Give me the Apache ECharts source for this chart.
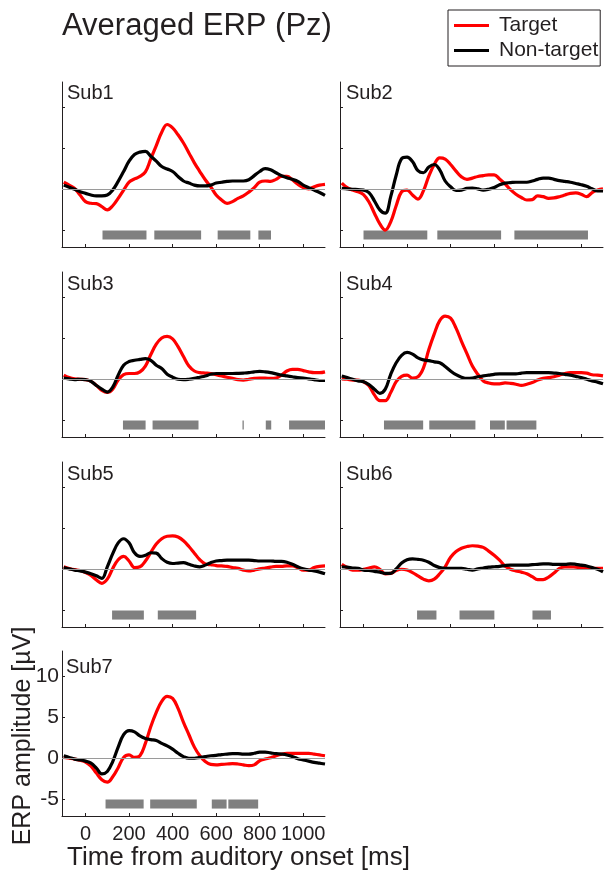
<!DOCTYPE html>
<html>
<head>
<meta charset="utf-8">
<script src="https://cdn.jsdelivr.net/npm/echarts@6/dist/echarts.min.js"></script>
<style>
html,body{margin:0;padding:0;background:#fff;}
#chart{width:605px;height:872px;}
</style>
</head>
<body>
<div id="chart"></div>
<script>
// ---- Data ----
const times = [-100,-75,-50,-25,0,25,50,75,100,125,150,175,200,225,250,275,300,325,350,375,400,425,450,475,500,525,550,575,600,625,650,675,700,725,750,775,800,825,850,875,900,925,950,975,1000,1025,1050,1075,1100];

const sub1Target = [0.85,0.5,0.1,-0.7,-1.5,-1.7,-1.75,-2.1,-2.5,-2.0, -1.1,-0.1,0.85,1.25,1.55,2.1,3.7,5.3,6.9,7.85, 7.45,6.6,5.6,4.4,3.2,2.15,1.15,0.3,-0.7,-1.3, -1.7,-1.5,-1.1,-0.8,-0.35,0.2,0.85,1.0,0.95,1.2, 1.55,1.55,1.15,0.6,0.2,0.05,0.3,0.5,0.6];
const sub1NonTarget = [0.5,0.25,0,-0.3,-0.5,-0.7,-0.8,-0.8,-0.7,-0.1, 0.95,2.15,3.4,4.2,4.5,4.6,4.0,3.4,2.75,2.45, 2.15,1.55,1.0,0.75,0.5,0.4,0.4,0.5,0.75,0.85, 0.95,1.0,1.0,1.0,1.15,1.65,2.15,2.5,2.35,2.0, 1.65,1.4,1.2,0.95,0.5,0.2,-0.1,-0.4,-0.75];

const sub2Target = [0.75,0.2,-0.1,-0.3,-0.65,-1.55,-2.9,-4.2,-4.95,-3.95, -2.0,-0.3,-0.1,-0.7,-1.2,-0.2,1.6,3.0,3.8,3.65, 3.0,2.2,1.5,1.2,1.35,1.55,1.65,1.75,1.75,1.25, 0.65,-0.05,-0.6,-1.0,-1.3,-1.25,-0.8,-0.9,-1.1,-1.05, -0.9,-0.7,-0.5,-0.45,-0.6,-0.9,-0.4,-0.1,0.05];
const sub2NonTarget = [0.1,0.05,0,-0.05,-0.1,-0.4,-1.4,-2.5,-2.9,-0.9, 1.7,3.7,3.9,3.35,2.25,2.0,2.7,3.0,2.35,1.0, 0.3,-0.15,-0.1,0.1,0.15,0.05,-0.1,0,0.2,0.55, 0.75,0.8,0.85,0.85,0.85,1.0,1.2,1.35,1.35,1.2, 1.05,0.95,0.85,0.7,0.55,0.35,0.05,-0.2,-0.2];

const sub3Target = [0.5,0.2,0.05,0,-0.05,-0.25,-0.75,-1.35,-1.6,-1.2, -0.1,0.55,0.7,0.7,0.9,1.6,3.0,4.25,5.0,5.2, 4.9,3.95,2.75,1.6,1.0,0.8,0.75,0.7,0.55,0.4, 0.25,0.1,-0.05,-0.1,0,0.1,0.15,0.15,0.1,0.15, 0.5,1.0,1.2,1.2,1.05,0.9,0.8,0.8,0.9];
const sub3NonTarget = [0.15,0.05,-0.05,0,-0.05,-0.25,-0.75,-1.2,-1.55,-0.95, 0.5,1.7,2.15,2.3,2.4,2.5,2.3,1.7,1.3,0.6, 0.25,0,-0.05,0,0.1,0.25,0.4,0.6,0.7,0.7, 0.7,0.7,0.72,0.75,0.8,0.9,0.95,0.9,0.8,0.65, 0.5,0.4,0.3,0.2,0.15,0.05,-0.05,-0.15,-0.15];

const sub4Target = [0.05,0,-0.1,-0.1,-0.3,-0.8,-1.9,-2.6,-2.6,-1.6, -0.3,0.35,0.5,0.15,0.3,1.35,3.6,5.5,7.1,7.65, 7.4,6.2,4.6,3.1,1.6,0.6,-0.2,-0.45,-0.55,-0.55, -0.45,-0.5,-0.6,-0.75,-0.6,-0.4,-0.1,0.1,0.2,0.3, 0.5,0.7,0.8,0.8,0.8,0.75,0.55,0.5,0.4];
const sub4NonTarget = [0.4,0.2,0,-0.2,-0.3,-0.65,-1.2,-1.7,-1.2,0.6, 2.0,2.9,3.25,3.05,2.6,2.35,2.25,2.1,2.0,1.55, 1.0,0.55,0.25,0.1,0.15,0.3,0.4,0.5,0.6,0.65, 0.65,0.65,0.65,0.75,0.8,0.8,0.8,0.8,0.8,0.75, 0.7,0.6,0.5,0.35,0.2,0,-0.2,-0.35,-0.55];

const sub5Target = [0.3,0.1,-0.05,-0.15,-0.4,-0.75,-1.3,-1.7,-1.2,0.1, 1.15,1.55,1.0,0.2,0.3,1.0,2.05,3.05,3.7,4.0, 4.05,3.9,3.45,2.75,1.95,1.15,0.65,0.55,0.45,0.4, 0.35,0.2,0.1,-0.1,-0.2,-0.1,0.05,0.15,0.25,0.35, 0.35,0.4,0.4,0.2,-0.1,-0.1,0.2,0.35,0.4];
const sub5NonTarget = [0.2,0.05,-0.1,-0.2,-0.35,-0.55,-0.8,-1.1,0.3,1.9, 3.2,3.7,3.2,2.0,1.55,1.7,2.0,1.95,1.3,0.85, 0.7,0.75,0.8,0.6,0.4,0.3,0.5,0.8,1.0,1.05, 1.1,1.1,1.1,1.1,1.1,1.05,1.0,1.0,1.0,0.95, 0.95,0.85,0.6,0.3,0.05,-0.1,-0.2,-0.35,-0.55];

const sub6Target = [0.6,0.2,-0.1,-0.1,0,0.15,0.3,0,-0.55,-0.5, -0.15,0,-0.1,-0.4,-0.8,-1.2,-1.4,-1.2,-0.55,0.3, 1.45,2.15,2.55,2.75,2.85,2.8,2.65,2.2,1.7,1.1, 0.4,0,-0.2,-0.35,-0.55,-0.9,-1.25,-1.25,-0.95,-0.45, 0.1,0.3,0.3,0.25,0.2,0.2,0.1,0.1,0.1];
const sub6NonTarget = [0.3,0.25,0.15,0.1,-0.1,-0.15,-0.25,-0.35,-0.5,-0.5, 0.05,0.75,1.15,1.25,1.2,1.1,0.85,0.45,0.2,0.1, 0.1,0.1,0.1,0,-0.1,0.05,0.15,0.25,0.3,0.35, 0.45,0.5,0.5,0.5,0.5,0.55,0.6,0.65,0.65,0.6, 0.6,0.6,0.65,0.6,0.5,0.4,0.2,0,-0.3];

const sub7Target = [0.1,0,-0.1,-0.25,-0.45,-0.95,-1.8,-2.6,-2.9,-2.25, -1.15,0.1,0.4,0.1,0.3,1.8,3.85,5.55,6.9,7.5, 7.25,6.05,4.35,2.85,1.35,0.3,-0.4,-0.75,-0.8,-0.75, -0.7,-0.65,-0.7,-0.8,-0.9,-0.8,-0.3,-0.1,0.05,0.3, 0.5,0.6,0.6,0.6,0.6,0.6,0.5,0.4,0.3];
const sub7NonTarget = [0.3,0.1,-0.1,-0.2,-0.35,-0.6,-1.2,-1.9,-1.6,-0.4, 1.35,2.85,3.35,3.2,2.7,2.4,2.25,2.15,1.8,1.5, 1.1,0.6,0.2,0,0,0.1,0.2,0.3,0.35,0.45, 0.5,0.55,0.55,0.5,0.5,0.6,0.75,0.75,0.65,0.55, 0.5,0.4,0.2,-0.05,-0.2,-0.35,-0.5,-0.6,-0.7];

// significant time windows [start ms, end ms]
const sub1Sig = [[78,280],[316,531],[607,757],[794,852]];
const sub2Sig = [[0,293],[339,632],[693,1031]];
const sub3Sig = [[172,276],[308,519],[721,727],[828,853],[935,1100]];
const sub4Sig = [[94,274],[302,514],[581,649],[657,794]];
const sub5Sig = [[122,268],[332,508]];
const sub6Sig = [[246,335],[441,601],[776,861]];
const sub7Sig = [[92,267],[297,511],[580,648],[656,793]];

const subjectNames = ['Sub1','Sub2','Sub3','Sub4','Sub5','Sub6','Sub7'];
const xTickValues = [0,200,400,600,800,1000];
const yTickValues = [-5,0,5,10];
const seriesNames = ['Target','Non-target'];

// ---- Layout / style ----
const FONT = 'Liberation Sans, Arial, Helvetica, sans-serif';
const TXT = '#231f20';
const panels = [
  {left:62, top:82, lab:[67,83]},
  {left:340, top:82, lab:[346,83]},
  {left:62, top:272, lab:[67,274]},
  {left:340, top:272, lab:[346,274]},
  {left:62, top:462, lab:[67,464]},
  {left:340, top:462, lab:[346,464]},
  {left:62, top:651, lab:[66,657]}
];
const PW = 263, PH = 165;
const XMIN = -108, XMAX = 1100, YMIN = -7, YMAX = 13;
const SIG_TOP = -5, SIG_BOTTOM = -6.1;

const targets = [sub1Target,sub2Target,sub3Target,sub4Target,sub5Target,sub6Target,sub7Target];
const nonTargets = [sub1NonTarget,sub2NonTarget,sub3NonTarget,sub4NonTarget,sub5NonTarget,sub6NonTarget,sub7NonTarget];
const sigs = [sub1Sig,sub2Sig,sub3Sig,sub4Sig,sub5Sig,sub6Sig,sub7Sig];

const grids = [], xAxes = [], yAxes = [], series = [], titles = [];

titles.push({text:'Averaged ERP (Pz)', left:62, top:11, padding:0,
  textStyle:{fontSize:31, fontWeight:'normal', fontFamily:FONT, color:TXT}});
titles.push({text:'Time from auditory onset [ms]', left:67, top:845, padding:0,
  textStyle:{fontSize:26, fontWeight:'normal', fontFamily:FONT, color:TXT}});

const plainNum = v => String(v);

panels.forEach((p, i) => {
  const last = (i === panels.length - 1);
  grids.push({left:p.left, top:p.top, width:PW, height:PH});
  xAxes.push({
    type:'value', gridIndex:i, min:XMIN, max:XMAX,
    axisLine:{show:true, onZero:false, lineStyle:{color:TXT, width:1}},
    axisTick:{show:true, inside:true, length:3, customValues:xTickValues, lineStyle:{color:TXT, width:1}},
    axisLabel:{show:last, customValues:xTickValues, formatter:plainNum, margin:8, fontSize:20, fontFamily:FONT, color:TXT,
      showMinLabel:true, showMaxLabel:true, hideOverlap:false},
    splitLine:{show:false}
  });
  yAxes.push({
    type:'value', gridIndex:i, min:YMIN, max:YMAX,
    axisLine:{show:true, onZero:false, lineStyle:{color:TXT, width:1}},
    axisTick:{show:true, inside:true, length:3, customValues:yTickValues, lineStyle:{color:TXT, width:1}},
    axisLabel:{show:last, customValues:yTickValues, formatter:plainNum, margin:3, fontSize:21, fontFamily:FONT, color:TXT,
      showMinLabel:true, showMaxLabel:true, hideOverlap:false},
    splitLine:{show:false}
  });
  titles.push({text:subjectNames[i], left:p.lab[0], top:p.lab[1], padding:0,
    textStyle:{fontSize:20, fontWeight:'normal', fontFamily:FONT, color:TXT}});

  // significance bars + zero line
  series.push({
    type:'custom', xAxisIndex:i, yAxisIndex:i, z:1, silent:true,
    data: sigs[i],
    encode:{x:[0,1]},
    renderItem: function(params, api){
      const a = api.coord([api.value(0), SIG_TOP]);
      const b = api.coord([api.value(1), SIG_BOTTOM]);
      return {type:'rect', shape:{x:a[0], y:a[1], width:Math.max(b[0]-a[0],1), height:b[1]-a[1]},
        style:{fill:'#808080'}};
    },
    markLine:{silent:true, symbol:'none', label:{show:false},
      lineStyle:{color:'#9a9a9a', width:1, type:'solid'}, data:[{yAxis:0}]}
  });
  series.push({
    name:seriesNames[0], type:'line', xAxisIndex:i, yAxisIndex:i, z:3,
    data: times.map((t,k)=>[t, targets[i][k]]),
    showSymbol:false, smooth:0.4, color:'#ff0000',
    lineStyle:{width:3.2, color:'#ff0000'}
  });
  series.push({
    name:seriesNames[1], type:'line', xAxisIndex:i, yAxisIndex:i, z:4,
    data: times.map((t,k)=>[t, nonTargets[i][k]]),
    showSymbol:false, smooth:0.4, color:'#000000',
    lineStyle:{width:3.2, color:'#000000'}
  });
});

const chart = echarts.init(document.getElementById('chart'), null, {renderer:'canvas'});
chart.setOption({
  animation:false,
  backgroundColor:'#ffffff',
  title: titles,
  legend:{
    data:seriesNames, orient:'vertical', left:448, top:10,
    icon:'rect', itemWidth:35, itemHeight:3, itemGap:4,
    padding:[5,2,5,6], borderColor:TXT, borderWidth:1, selectedMode:false,
    textStyle:{fontSize:21, fontFamily:FONT, color:TXT, padding:[0,0,0,5]}
  },
  grid: grids,
  xAxis: xAxes,
  yAxis: yAxes,
  graphic:[{
    type:'text', x:23, y:736, rotation:Math.PI/2,
    style:{text:'ERP amplitude [\u00b5V]', fontSize:25, fontFamily:FONT, fill:TXT,
      textAlign:'center', textVerticalAlign:'middle'}
  }],
  series: series
});
</script>
</body>
</html>
